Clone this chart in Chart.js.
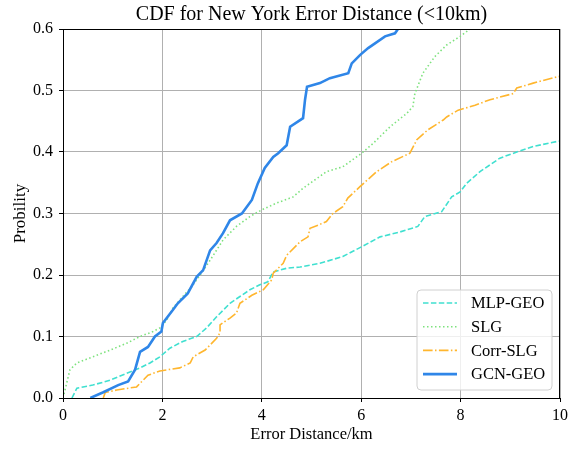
<!DOCTYPE html>
<html>
<head>
<meta charset="utf-8">
<script src="https://cdn.jsdelivr.net/npm/chart.js@4"></script>
<style>
  html, body { margin: 0; padding: 0; background: #fff; }
  #wrap { width: 576px; height: 451px; }
</style>
</head>
<body>
<div id="wrap"><canvas id="grafico" width="576" height="451"></canvas></div>
<script>
// valores
var mlpX = [0.18, 0.28, 0.6, 0.95, 1.28, 1.55, 1.75, 1.95, 2.15, 2.41, 2.69, 2.89, 3.09, 3.36, 3.56, 3.76, 3.96, 4.12, 4.23, 4.5, 4.77, 5.17, 5.63, 6.01, 6.38, 6.78, 7.14, 7.28, 7.62, 7.82, 7.99, 8.12, 8.39, 8.79, 9.13, 9.46, 9.93, 10];
var mlpY = [0, 0.016, 0.021, 0.029, 0.04, 0.049, 0.057, 0.067, 0.081, 0.092, 0.1, 0.114, 0.132, 0.154, 0.165, 0.176, 0.184, 0.189, 0.205, 0.211, 0.213, 0.219, 0.23, 0.246, 0.262, 0.27, 0.279, 0.295, 0.303, 0.327, 0.335, 0.349, 0.368, 0.39, 0.4, 0.409, 0.417, 0.418];

var slgX = [0.0, 0.04, 0.14, 0.28, 0.6, 0.95, 1.28, 1.55, 1.81, 1.95, 2.09, 2.21, 2.41, 2.59, 2.76, 2.96, 3.22, 3.49, 3.76, 4.0, 4.3, 4.63, 4.83, 5.3, 5.63, 6.01, 6.24, 6.58, 6.92, 7.04, 7.08, 7.24, 7.48, 7.72, 7.99, 8.19];
var slgY = [0, 0.013, 0.046, 0.057, 0.067, 0.078, 0.089, 0.1, 0.108, 0.114, 0.127, 0.146, 0.165, 0.181, 0.2, 0.224, 0.257, 0.279, 0.295, 0.306, 0.317, 0.327, 0.341, 0.368, 0.376, 0.398, 0.414, 0.441, 0.463, 0.474, 0.495, 0.528, 0.555, 0.574, 0.588, 0.6];

var corrX = [0.81, 0.85, 1.08, 1.48, 1.71, 1.95, 2.35, 2.56, 2.62, 2.86, 3.09, 3.16, 3.16, 3.36, 3.49, 3.56, 3.8, 4.03, 4.2, 4.23, 4.43, 4.5, 4.77, 4.93, 4.97, 5.13, 5.3, 5.43, 5.63, 5.73, 5.98, 6.31, 6.61, 6.98, 7.12, 7.34, 7.65, 7.72, 7.95, 8.29, 8.59, 9.06, 9.13, 9.46, 9.93, 10];
var corrY = [0, 0.009, 0.013, 0.018, 0.037, 0.044, 0.049, 0.057, 0.067, 0.078, 0.097, 0.106, 0.119, 0.13, 0.138, 0.154, 0.167, 0.176, 0.192, 0.203, 0.219, 0.232, 0.254, 0.262, 0.276, 0.281, 0.287, 0.3, 0.311, 0.325, 0.344, 0.368, 0.384, 0.398, 0.42, 0.436, 0.452, 0.457, 0.468, 0.476, 0.485, 0.495, 0.504, 0.512, 0.522, 0.523];

var gcnX = [0.55, 0.8, 1.11, 1.31, 1.45, 1.55, 1.71, 1.85, 1.98, 2.01, 2.21, 2.31, 2.51, 2.69, 2.82, 2.96, 3.09, 3.22, 3.36, 3.6, 3.8, 3.92, 4.06, 4.23, 4.33, 4.5, 4.57, 4.83, 4.87, 4.91, 5.17, 5.37, 5.74, 5.81, 5.98, 6.14, 6.48, 6.68, 6.74];
var gcnY = [0, 0.009, 0.021, 0.027, 0.046, 0.075, 0.083, 0.1, 0.108, 0.122, 0.143, 0.154, 0.17, 0.197, 0.208, 0.24, 0.252, 0.268, 0.289, 0.3, 0.322, 0.349, 0.374, 0.392, 0.398, 0.411, 0.441, 0.455, 0.485, 0.506, 0.512, 0.52, 0.528, 0.544, 0.558, 0.569, 0.588, 0.593, 0.6];

var nombres = ['MLP-GEO', 'SLG', 'Corr-SLG', 'GCN-GEO'];
var colores = ['#40e0d0', '#7ee27e', '#ffb62e', '#2f86e8'];
var xTicks = [0, 2, 4, 6, 8, 10];
var yTicks = [0.0, 0.1, 0.2, 0.3, 0.4, 0.5, 0.6];
var titulo = 'CDF for New York Error Distance (<10km)';

var fuente = "'Liberation Serif', 'DejaVu Serif', serif";

function puntos(xs, ys) {
    var res = [];
    for (var i = 0; i < xs.length; i++) {
        res.push({ x: xs[i], y: ys[i] });
    }
    return res;
}

var estilos = [
    { dash: [5.5, 2.4], ancho: 1.6 },
    { dash: [1.5, 2.5], ancho: 1.6 },
    { dash: [9.6, 2.4, 1.5, 2.4], ancho: 1.6 },
    { dash: [], ancho: 2.6 }
];
var series = [puntos(mlpX, mlpY), puntos(slgX, slgY), puntos(corrX, corrY), puntos(gcnX, gcnY)];

var datasets = [];
for (var i = 0; i < series.length; i++) {
    datasets.push({
        label: nombres[i],
        data: series[i],
        showLine: true,
        borderColor: colores[i],
        backgroundColor: colores[i],
        borderWidth: estilos[i].ancho,
        borderDash: estilos[i].dash,
        pointRadius: 0,
        tension: 0,
        order: 4 - i
    });
}

// titulo centrado sobre el area, marco negro y leyenda dentro del area
var marcoLeyenda = {
    id: 'marcoLeyenda',
    afterDatasetsDraw: function(chart) {
        var ctx = chart.ctx;
        var a = chart.chartArea;
        ctx.save();
        ctx.strokeStyle = '#000';
        ctx.lineWidth = 1;
        ctx.strokeRect(a.left + 0.5, a.top + 0.5, a.right - a.left - 1, a.bottom - a.top);

        ctx.font = '20px ' + fuente;
        ctx.fillStyle = '#000';
        ctx.textAlign = 'center';
        ctx.textBaseline = 'middle';
        ctx.fillText(titulo, (a.left + a.right) / 2, 15);
        ctx.textAlign = 'left';

        var w = 135, h = 100;
        var bx = a.right - 8 - w, by = a.bottom - 8 - h;
        ctx.beginPath();
        ctx.roundRect(bx, by, w, h, 4);
        ctx.fillStyle = 'rgba(255,255,255,0.8)';
        ctx.fill();
        ctx.strokeStyle = '#d0d0d0';
        ctx.lineWidth = 1;
        ctx.stroke();

        ctx.font = '16.5px ' + fuente;
        for (var i = 0; i < nombres.length; i++) {
            var cy = by + 13 + i * 23.7;
            ctx.beginPath();
            ctx.setLineDash(estilos[i].dash);
            ctx.strokeStyle = colores[i];
            ctx.lineWidth = estilos[i].ancho;
            ctx.moveTo(bx + 6, cy);
            ctx.lineTo(bx + 40, cy);
            ctx.stroke();
            ctx.setLineDash([]);
            ctx.fillStyle = '#000';
            ctx.fillText(nombres[i], bx + 54, cy + 1);
        }
        ctx.restore();
    }
};

new Chart(document.getElementById('grafico'), {
    type: 'scatter',
    data: { datasets: datasets },
    plugins: [marcoLeyenda],
    options: {
        responsive: false,
        animation: false,
        layout: { padding: { left: 0, right: 16, top: 29, bottom: 0 } },
        plugins: {
            legend: { display: false },
            tooltip: { enabled: false },
            title: { display: false }
        },
        scales: {
            x: {
                type: 'linear',
                min: 0,
                max: 10,
                afterBuildTicks: function(scale) {
                    scale.ticks = xTicks.map(function(v) { return { value: v }; });
                },
                afterFit: function(scale) { scale.height = 53; },
                ticks: {
                    color: '#000',
                    font: { family: fuente, size: 16 },
                    padding: 4,
                    maxRotation: 0,
                    callback: function(v) { return String(v); }
                },
                grid: { color: '#b0b0b0', lineWidth: 1, tickColor: '#000', tickLength: 4 },
                border: { display: true, color: '#000' },
                title: {
                    display: true,
                    text: 'Error Distance/km',
                    color: '#000',
                    font: { family: fuente, size: 16.5 },
                    padding: { top: 2, bottom: 6 }
                }
            },
            y: {
                type: 'linear',
                min: 0,
                max: 0.6,
                afterBuildTicks: function(scale) {
                    scale.ticks = yTicks.map(function(v) { return { value: v }; });
                },
                afterFit: function(scale) { scale.width = 63; },
                ticks: {
                    color: '#000',
                    font: { family: fuente, size: 16 },
                    padding: 6,
                    callback: function(v) { return v.toFixed(1); }
                },
                grid: { color: '#b0b0b0', lineWidth: 1, tickColor: '#000', tickLength: 4 },
                border: { display: true, color: '#000' },
                title: {
                    display: true,
                    text: 'Probility',
                    color: '#000',
                    font: { family: fuente, size: 17 },
                    padding: { top: 10, bottom: 4 }
                }
            }
        }
    }
});
</script>
</body>
</html>
